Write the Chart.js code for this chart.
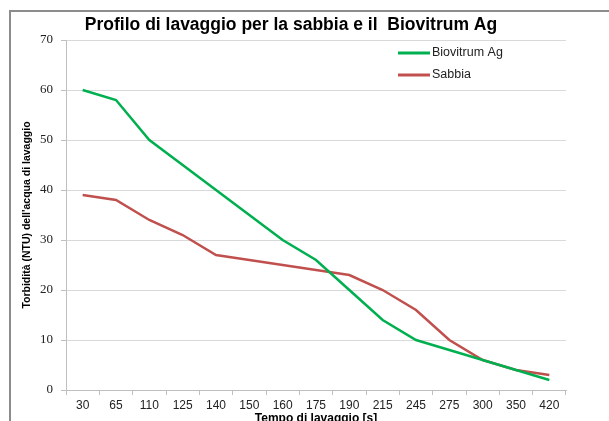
<!DOCTYPE html>
<html>
<head>
<meta charset="utf-8">
<script src="https://cdn.jsdelivr.net/npm/chart.js@4/dist/chart.umd.min.js"></script>
<style>
  html, body { margin: 0; padding: 0; background: #fff; overflow: hidden; }
  canvas { display: block; }
</style>
</head>
<body>
<canvas id="washChart" width="609" height="430"></canvas>
<script>
// Tempo di lavaggio [s] (categorie sull'asse x)
const times = ['30', '65', '110', '125', '140', '150', '160', '175', '190', '215', '245', '275', '300', '350', '420'];
// Torbidità (NTU)
const biovitrum = [60, 58, 50, 45, 40, 35, 30, 26, 20, 14, 10, 8, 6, 4, 2];
const sabbia = [39, 38, 34, 31, 27, 26, 25, 24, 23, 20, 16, 10, 6, 4, 3];
const seriesNames = ['Biovitrum Ag', 'Sabbia'];
const yMin = 0, yMax = 70, yStep = 10;

const GREEN = '#00B050';
const RED = '#C0504D';

// grey frame round the chart, like the spreadsheet export
const frame = {
    id: 'frame',
    beforeDraw(chart) {
        const ctx = chart.ctx;
        ctx.save();
        ctx.strokeStyle = '#8c8c8c';
        ctx.lineWidth = 2;
        ctx.strokeRect(10, 11, 700, 500);
        ctx.restore();
    }
};

// legend sits inside the plot area, top right
const innerLegend = {
    id: 'innerLegend',
    afterDraw(chart) {
        const { ctx, chartArea } = chart;
        ctx.save();
        chart.data.datasets.forEach((ds, i) => {
            const x = chartArea.left + 332;
            const y = chartArea.top + 13 + i * 22;
            ctx.strokeStyle = ds.borderColor;
            ctx.lineWidth = 3;
            ctx.beginPath();
            ctx.moveTo(x, y);
            ctx.lineTo(x + 32, y);
            ctx.stroke();
            ctx.fillStyle = '#222';
            ctx.font = '12.5px "Liberation Sans", Arial, sans-serif';
            ctx.textBaseline = 'middle';
            ctx.fillText(ds.label, x + 34, y);
        });
        ctx.restore();
    }
};

new Chart(document.getElementById('washChart'), {
    type: 'line',
    data: {
        labels: times,
        datasets: [
            {
                label: seriesNames[0],
                data: biovitrum,
                borderColor: GREEN,
                backgroundColor: GREEN,
                borderWidth: 2.5,
                pointRadius: 0,
                tension: 0
            },
            {
                label: seriesNames[1],
                data: sabbia,
                borderColor: RED,
                backgroundColor: RED,
                borderWidth: 2.5,
                pointRadius: 0,
                tension: 0
            }
        ]
    },
    options: {
        responsive: false,
        animation: false,
        layout: { padding: { left: 0, right: 27, top: 0, bottom: 0 } },
        plugins: {
            legend: { display: false },
            tooltip: { enabled: false },
            title: {
                display: true,
                text: 'Profilo di lavaggio per la sabbia e il  Biovitrum Ag',
                color: '#000',
                font: { family: '"Liberation Sans", Arial, sans-serif', size: 17.5, weight: 'bold' },
                padding: { top: 14.5, bottom: 4.5 }
            }
        },
        scales: {
            x: {
                offset: true,
                grid: {
                    offset: true,
                    drawOnChartArea: false,
                    tickLength: 5,
                    color: '#bfbfbf'
                },
                border: { color: '#bfbfbf' },
                ticks: {
                    color: '#222',
                    padding: 3,
                    maxRotation: 0,
                    autoSkip: false,
                    font: { family: '"Liberation Sans", Arial, sans-serif', size: 12 }
                },
                title: {
                    display: true,
                    text: 'Tempo di lavaggio [s]',
                    color: '#000',
                    font: { family: '"Liberation Sans", Arial, sans-serif', size: 12, weight: 'bold' },
                    padding: { top: 0, bottom: 4.5 }
                },
                afterFit(scale) { scale.height = 40; }
            },
            y: {
                min: yMin,
                max: yMax,
                grid: {
                    color: '#d9d9d9',
                    tickLength: 5,
                    tickColor: '#bfbfbf'
                },
                border: { color: '#bfbfbf' },
                ticks: {
                    stepSize: yStep,
                    color: '#222',
                    padding: 8,
                    font: { family: '"Liberation Serif", "Times New Roman", serif', size: 13 }
                },
                title: {
                    display: true,
                    text: "Torbidità (NTU) dell'acqua di lavaggio",
                    color: '#000',
                    font: { family: '"Liberation Sans", Arial, sans-serif', size: 10.5, weight: 'bold' },
                    padding: { top: 21, bottom: 4 }
                },
                afterFit(scale) { scale.width = 66; }
            },
            // empty right-hand spacer so the plot ends where the original does
            yRight: {
                position: 'right',
                min: yMin,
                max: yMax,
                grid: { drawOnChartArea: false, drawTicks: false },
                border: { display: false },
                ticks: { display: false },
                afterFit(scale) { scale.width = 16; }
            }
        }
    },
    plugins: [frame, innerLegend]
});
</script>
</body>
</html>
